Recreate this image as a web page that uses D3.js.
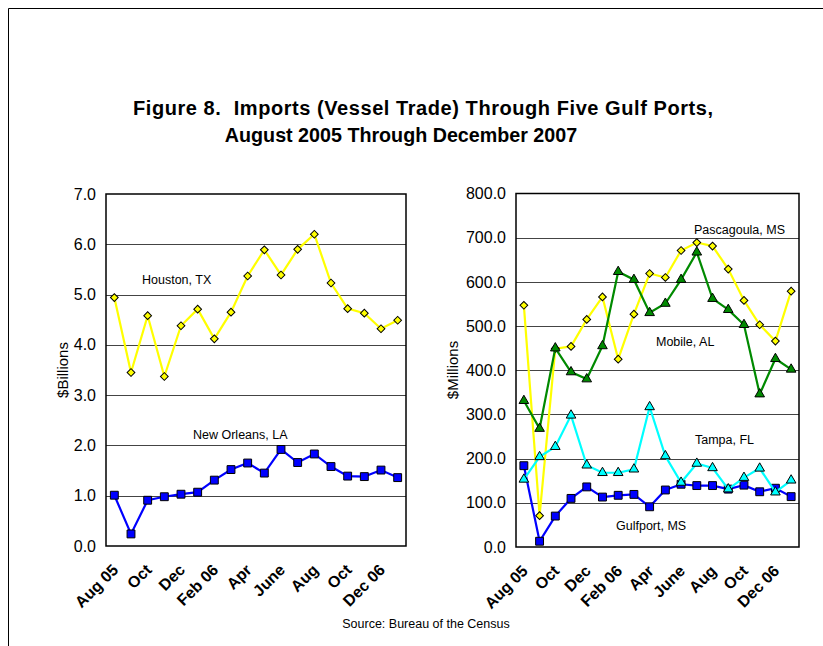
<!DOCTYPE html>
<html>
<head>
<meta charset="utf-8">
<script src="https://cdn.jsdelivr.net/npm/d3@7"></script>
<style>
  body { margin: 0; background: #fff; }
  svg { display: block; font-family: "Liberation Sans", Arial, sans-serif; }
</style>
</head>
<body>
<div id="chart"></div>
<script>
// Months Aug 05 .. Jan 07
const months = ["Aug 05", "Sep", "Oct", "Nov", "Dec", "Jan 06", "Feb 06", "Mar", "Apr", "May",
  "June", "July", "Aug", "Sep", "Oct", "Nov", "Dec 06", "Jan 07"];
const tickLabels = ["Aug 05", "Oct", "Dec", "Feb 06", "Apr", "June", "Aug", "Oct", "Dec 06"];

// $Billions
const houston = [4.94, 3.45, 4.58, 3.37, 4.38, 4.71, 4.12, 4.65, 5.37, 5.89, 5.39, 5.90, 6.20, 5.23, 4.72, 4.63, 4.32, 4.49];
const newOrleans = [1.01, 0.24, 0.91, 0.98, 1.03, 1.07, 1.31, 1.52, 1.65, 1.45, 1.92, 1.66, 1.83, 1.58, 1.39, 1.38, 1.51, 1.36];

// $Millions
const pascagoula = [547, 71, 449, 454, 515, 566, 425, 527, 619, 610, 671, 689, 681, 629, 558, 503, 466, 579];
const mobile = [331, 268, 450, 396, 380, 455, 623, 605, 530, 551, 605, 667, 562, 537, 503, 346, 426, 402];
const gulfport = [184, 13, 70, 110, 136, 113, 117, 119, 91, 129, 142, 139, 139, 131, 140, 125, 133, 114];
const tampa = [153, 204, 227, 298, 185, 168, 168, 176, 317, 206, 146, 189, 179, 131, 157, 178, 124, 151];

const leftTicks = [0, 1, 2, 3, 4, 5, 6, 7];
const rightTicks = [0, 100, 200, 300, 400, 500, 600, 700, 800];

const W = 823, H = 646;
const svg = d3.select("#chart").append("svg").attr("width", W).attr("height", H);

// outer frame (top and left edges visible)
svg.append("line").attr("x1", 8.5).attr("y1", 8.5).attr("x2", W).attr("y2", 8.5).attr("stroke", "#000");
svg.append("line").attr("x1", 8.5).attr("y1", 8.5).attr("x2", 8.5).attr("y2", H).attr("stroke", "#000");

// title
const title = svg.append("text").attr("font-weight", "bold").attr("font-size", 20).attr("fill", "#000");
title.append("tspan").attr("x", 133).attr("y", 115)
  .attr("textLength", 580).attr("lengthAdjust", "spacing")
  .text("Figure 8.\u00a0 Imports (Vessel Trade) Through Five Gulf Ports,");
title.append("tspan").attr("x", 401).attr("y", 142).attr("text-anchor", "middle")
  .attr("font-size", 19.7)
  .text("August 2005 Through December 2007");

svg.append("text").attr("x", 426).attr("y", 628).attr("text-anchor", "middle")
  .attr("font-size", 12.5).text("Source: Bureau of the Census");

const markers = {
  diamond: { type: d3.symbolSquare, size: 30, rotate: 45 },
  square: { type: d3.symbolSquare, size: 62, rotate: 0 },
  triangle: { type: d3.symbolTriangle, size: 40, rotate: 0 }
};

function panel(cfg) {
  // months repeat by name, so the band scale works on indexes
  const x = d3.scaleBand().domain(d3.range(months.length)).range([cfg.x0, cfg.x1]).padding(0);
  const y = d3.scaleLinear().domain([0, cfg.max]).range([cfg.y1, cfg.y0]);
  const cx = i => x(i) + x.bandwidth() / 2;

  const g = svg.append("g");

  // gridlines
  g.selectAll(".grid").data(cfg.ticks.slice(1, -1)).enter().append("line")
    .attr("x1", cfg.x0).attr("x2", cfg.x1)
    .attr("y1", d => Math.round(y(d)) + 0.5).attr("y2", d => Math.round(y(d)) + 0.5)
    .attr("stroke", "#444").attr("stroke-width", 1);

  // frame
  g.append("rect").attr("x", cfg.x0).attr("y", cfg.y0)
    .attr("width", cfg.x1 - cfg.x0).attr("height", cfg.y1 - cfg.y0)
    .attr("fill", "none").attr("stroke", "#000").attr("stroke-width", 1.5);

  // y axis labels
  const yAxis = d3.axisLeft(y).tickValues(cfg.ticks).tickFormat(d3.format(".1f")).tickSize(0).tickPadding(10);
  g.append("g").attr("transform", `translate(${cfg.x0},0)`).call(yAxis)
    .call(a => a.select(".domain").remove())
    .selectAll("text").attr("font-size", 16).attr("font-family", "Liberation Sans, Arial, sans-serif").attr("fill", "#000");

  g.append("text")
    .attr("transform", `translate(${cfg.ylabX},370) rotate(-90)`)
    .attr("text-anchor", "middle").attr("font-size", 15).text(cfg.ylab);

  // x labels, every other month
  const labelled = d3.range(0, months.length, 2);
  g.selectAll(".xl").data(labelled).enter().append("text")
    .attr("transform", d => `translate(${cx(d) + 5},${cfg.y1 + 25}) rotate(-45)`)
    .attr("text-anchor", "end").attr("font-weight", "bold").attr("font-size", 16)
    .text((d, i) => tickLabels[i]);

  // series
  cfg.series.forEach(s => {
    const line = d3.line().x((d, i) => cx(i)).y(d => y(d));
    g.append("path").datum(s.values).attr("d", line)
      .attr("fill", "none").attr("stroke", s.color).attr("stroke-width", 2.2)
      .attr("stroke-linejoin", "miter");
    const m = markers[s.marker];
    const sym = d3.symbol().type(m.type).size(m.size);
    g.selectAll(null).data(s.values).enter().append("path")
      .attr("d", sym)
      .attr("transform", (d, i) => `translate(${cx(i)},${y(d)}) rotate(${m.rotate})`)
      .attr("fill", s.color).attr("stroke", "#000").attr("stroke-width", 1);
  });

  cfg.labels.forEach(l => {
    g.append("text").attr("x", l.x).attr("y", l.y).attr("font-size", 12.5).text(l.text);
  });
}

panel({
  x0: 106, x1: 406, y0: 194, y1: 546, max: 7, ticks: leftTicks,
  ylab: "$Billions", ylabX: 68,
  series: [
    { values: houston, color: "#ffff00", marker: "diamond" },
    { values: newOrleans, color: "#0000ff", marker: "square" }
  ],
  labels: [
    { text: "Houston, TX", x: 142, y: 284 },
    { text: "New Orleans, LA", x: 193, y: 439 }
  ]
});

panel({
  x0: 516, x1: 799, y0: 193.5, y1: 547, max: 800, ticks: rightTicks,
  ylab: "$Millions", ylabX: 458,
  series: [
    { values: pascagoula, color: "#ffff00", marker: "diamond" },
    { values: mobile, color: "#008a00", marker: "triangle" },
    { values: gulfport, color: "#0000ff", marker: "square" },
    { values: tampa, color: "#00ffff", marker: "triangle" }
  ],
  labels: [
    { text: "Pascagoula, MS", x: 694, y: 234 },
    { text: "Mobile, AL", x: 656, y: 346 },
    { text: "Tampa, FL", x: 695, y: 444 },
    { text: "Gulfport, MS", x: 616, y: 530 }
  ]
});
</script>
</body>
</html>
